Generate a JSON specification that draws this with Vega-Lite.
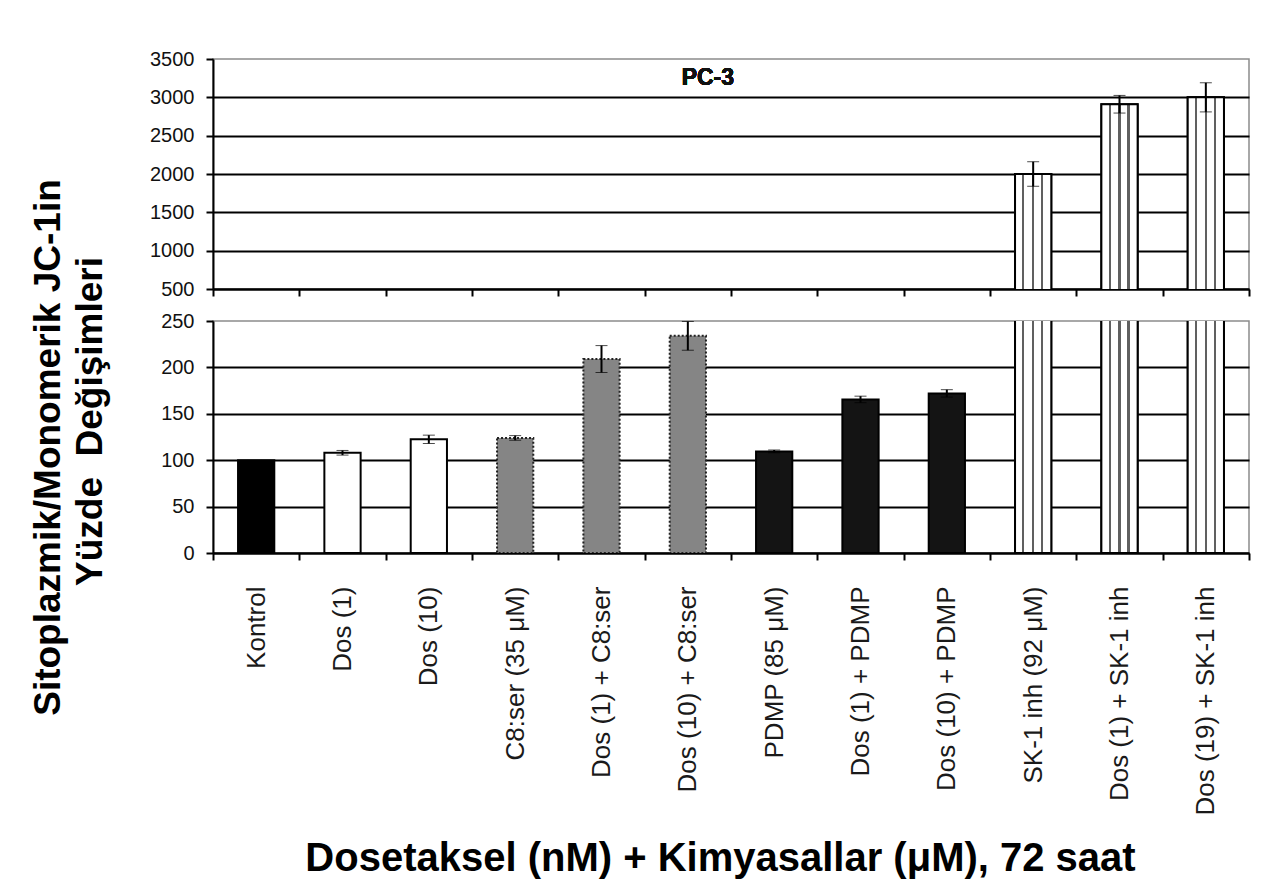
{
  "$schema": "https://vega.github.io/schema/vega-lite/v6.json",
  "autosize": {"type": "none"},
  "padding": {"left": 213, "top": 59, "right": 20, "bottom": 820},
  "background": "white",
  "spacing": 32,
  "bounds": "flush",
  "datasets": {
    "pc3": [
      {"k": "Kontrol", "g": "kontrol", "value": 100, "err": 0},
      {"k": "Dos (1)", "g": "dos", "value": 108, "err": 2.5},
      {"k": "Dos (10)", "g": "dos", "value": 122.5, "err": 4.5},
      {"k": "C8:ser (35 μM)", "g": "c8", "value": 124, "err": 2.5},
      {"k": "Dos (1) + C8:ser", "g": "c8", "value": 209, "err": 14.5},
      {"k": "Dos (10) + C8:ser", "g": "c8", "value": 234, "err": 15.5},
      {"k": "PDMP (85 μM)", "g": "pdmp", "value": 109.5, "err": 1.5},
      {"k": "Dos (1) + PDMP", "g": "pdmp", "value": 165.5, "err": 3.5},
      {"k": "Dos (10) + PDMP", "g": "pdmp", "value": 172, "err": 4},
      {"k": "SK-1 inh (92 μM)", "g": "sk", "value": 2000, "err": 160},
      {"k": "Dos (1) + SK-1 inh", "g": "sk", "value": 2910, "err": 115},
      {"k": "Dos (19) + SK-1 inh", "g": "sk", "value": 3000, "err": 190}
    ]
  },
  "vconcat": [
    {
      "width": 1036,
      "height": 230,
      "data": {"name": "pc3"},
      "encoding": {
        "x": {
          "field": "k",
          "type": "nominal",
          "sort": null,
          "scale": {
            "domain": ["Kontrol", "Dos (1)", "Dos (10)", "C8:ser (35 μM)", "Dos (1) + C8:ser", "Dos (10) + C8:ser", "PDMP (85 μM)", "Dos (1) + PDMP", "Dos (10) + PDMP", "SK-1 inh (92 μM)", "Dos (1) + SK-1 inh", "Dos (19) + SK-1 inh"],
            "paddingInner": 0,
            "paddingOuter": 0
          },
          "axis": {"labels": false, "title": null, "tickBand": "extent"}
        },
        "y": {
          "field": "value",
          "type": "quantitative",
          "scale": {"domain": [500, 3500], "nice": false, "zero": false},
          "axis": {
            "format": "d",
            "values": [500, 1000, 1500, 2000, 2500, 3000, 3500],
            "gridOpacity": {"condition": {"test": "datum.value >= 3500", "value": 0}, "value": 1},
            "title": "Yüzde\u00a0\u00a0Değişimleri",
            "titleFontSize": 37,
            "titleFontWeight": "bold",
            "titleAngle": -90,
            "titleX": -123,
            "titleY": 362,
            "titleAlign": "center",
            "titleBaseline": "middle",
            "titleColor": "#000000"
          }
        }
      },
      "layer": [
        {
          "mark": {"type": "bar", "clip": true, "strokeWidth": 2, "width": {"band": 0.42}},
          "encoding": {
            "fill": {
              "field": "g",
              "scale": {"domain": ["kontrol", "dos", "c8", "pdmp", "sk"], "range": ["#000000", "#ffffff", "#858585", "#141414", "#ffffff"]},
              "legend": null
            },
            "stroke": {
              "field": "g",
              "scale": {"domain": ["kontrol", "dos", "c8", "pdmp", "sk"], "range": ["#000000", "#000000", "#222222", "#000000", "#000000"]},
              "legend": null
            },
            "strokeDash": {
              "field": "g",
              "scale": {"domain": ["kontrol", "dos", "c8", "pdmp", "sk"], "range": [[1, 0], [1, 0], [2, 2], [1, 0], [1, 0]]},
              "legend": null
            }
          }
        },
        {
          "transform": [{"filter": "datum.g == 'sk'"}],
          "mark": {
            "type": "bar",
            "clip": true,
            "width": {"band": 0.42},
            "stroke": "#000000",
            "strokeWidth": 2,
            "fill": {
              "gradient": "linear", "x1": 0, "x2": 1, "y1": 0, "y2": 0,
              "stops": [
                {"offset": 0, "color": "#ffffff"}, {"offset": 0.2, "color": "#ffffff"},
                {"offset": 0.2, "color": "#606060"}, {"offset": 0.26, "color": "#606060"},
                {"offset": 0.26, "color": "#ffffff"}, {"offset": 0.47, "color": "#ffffff"},
                {"offset": 0.47, "color": "#606060"}, {"offset": 0.53, "color": "#606060"},
                {"offset": 0.53, "color": "#ffffff"}, {"offset": 0.72, "color": "#ffffff"},
                {"offset": 0.72, "color": "#606060"}, {"offset": 0.78, "color": "#606060"},
                {"offset": 0.78, "color": "#ffffff"}, {"offset": 1, "color": "#ffffff"}
              ]
            }
          }
        },
        {
          "transform": [{"filter": "datum.value > 500"}],
          "mark": {
            "type": "errorbar",
            "ticks": {"size": 12, "strokeWidth": 2, "color": "#000000"},
            "rule": {"strokeWidth": 2, "color": "#000000"}
          },
          "encoding": {"yError": {"field": "err"}}
        },
        {
          "mark": {
            "type": "text",
            "text": "PC-3",
            "font": "Liberation Sans",
            "fontSize": 23,
            "fontWeight": "bold",
            "color": "#111111",
            "dx": 20,
            "baseline": "middle",
            "align": "center"
          },
          "encoding": {
            "x": {"datum": "Dos (10) + C8:ser"},
            "y": {"datum": 3250}
          }
        }
      ]
    },
    {
      "width": 1036,
      "height": 232,
      "data": {"name": "pc3"},
      "encoding": {
        "x": {
          "field": "k",
          "type": "nominal",
          "sort": null,
          "scale": {
            "domain": ["Kontrol", "Dos (1)", "Dos (10)", "C8:ser (35 μM)", "Dos (1) + C8:ser", "Dos (10) + C8:ser", "PDMP (85 μM)", "Dos (1) + PDMP", "Dos (10) + PDMP", "SK-1 inh (92 μM)", "Dos (1) + SK-1 inh", "Dos (19) + SK-1 inh"],
            "paddingInner": 0,
            "paddingOuter": 0
          },
          "axis": {
            "tickBand": "extent",
            "labelAngle": -90,
            "labelFontSize": 26,
            "labelPadding": 26,
            "labelLimit": 0,
            "labelColor": "#1a1a1a",
            "labelOverlap": false,
            "title": "Dosetaksel (nM) + Kimyasallar (μM), 72 saat",
            "titleFontSize": 40,
            "titleFontWeight": "bold",
            "titleX": 507,
            "titleY": 305,
            "titleAlign": "center",
            "titleBaseline": "middle",
            "titleColor": "#000000"
          }
        },
        "y": {
          "field": "value",
          "type": "quantitative",
          "scale": {"domain": [0, 250], "nice": false},
          "axis": {
            "values": [0, 50, 100, 150, 200, 250],
            "gridOpacity": {"condition": {"test": "datum.value >= 250", "value": 0}, "value": 1},
            "title": "Sitoplazmik/Monomerik JC-1in",
            "titleFontSize": 37,
            "titleFontWeight": "bold",
            "titleAngle": -90,
            "titleX": -165,
            "titleY": 126,
            "titleAlign": "center",
            "titleBaseline": "middle",
            "titleColor": "#000000"
          }
        }
      },
      "layer": [
        {
          "mark": {"type": "bar", "clip": true, "strokeWidth": 2, "width": {"band": 0.42}},
          "encoding": {
            "fill": {
              "field": "g",
              "scale": {"domain": ["kontrol", "dos", "c8", "pdmp", "sk"], "range": ["#000000", "#ffffff", "#858585", "#141414", "#ffffff"]},
              "legend": null
            },
            "stroke": {
              "field": "g",
              "scale": {"domain": ["kontrol", "dos", "c8", "pdmp", "sk"], "range": ["#000000", "#000000", "#222222", "#000000", "#000000"]},
              "legend": null
            },
            "strokeDash": {
              "field": "g",
              "scale": {"domain": ["kontrol", "dos", "c8", "pdmp", "sk"], "range": [[1, 0], [1, 0], [2, 2], [1, 0], [1, 0]]},
              "legend": null
            }
          }
        },
        {
          "transform": [{"filter": "datum.g == 'sk'"}],
          "mark": {
            "type": "bar",
            "clip": true,
            "width": {"band": 0.42},
            "stroke": "#000000",
            "strokeWidth": 2,
            "fill": {
              "gradient": "linear", "x1": 0, "x2": 1, "y1": 0, "y2": 0,
              "stops": [
                {"offset": 0, "color": "#ffffff"}, {"offset": 0.2, "color": "#ffffff"},
                {"offset": 0.2, "color": "#606060"}, {"offset": 0.26, "color": "#606060"},
                {"offset": 0.26, "color": "#ffffff"}, {"offset": 0.47, "color": "#ffffff"},
                {"offset": 0.47, "color": "#606060"}, {"offset": 0.53, "color": "#606060"},
                {"offset": 0.53, "color": "#ffffff"}, {"offset": 0.72, "color": "#ffffff"},
                {"offset": 0.72, "color": "#606060"}, {"offset": 0.78, "color": "#606060"},
                {"offset": 0.78, "color": "#ffffff"}, {"offset": 1, "color": "#ffffff"}
              ]
            }
          }
        },
        {
          "transform": [{"filter": "datum.err > 0 && datum.value < 500"}],
          "mark": {
            "type": "errorbar",
            "ticks": {"size": 12, "strokeWidth": 2, "color": "#000000"},
            "rule": {"strokeWidth": 2, "color": "#000000"}
          },
          "encoding": {"yError": {"field": "err"}}
        }
      ]
    }
  ],
  "config": {
    "font": "Liberation Sans",
    "view": {"stroke": "#8c8c8c", "strokeWidth": 1.5},
    "axis": {
      "labelFont": "Liberation Sans",
      "titleFont": "Liberation Sans",
      "domainColor": "#000000",
      "domainWidth": 2,
      "tickColor": "#000000",
      "tickWidth": 2,
      "tickSize": 7,
      "labelColor": "#111111"
    },
    "axisY": {
      "gridColor": "#000000",
      "gridWidth": 2,
      "labelFontSize": 20,
      "labelPadding": 12,
      "labelOverlap": false
    }
  }
}
